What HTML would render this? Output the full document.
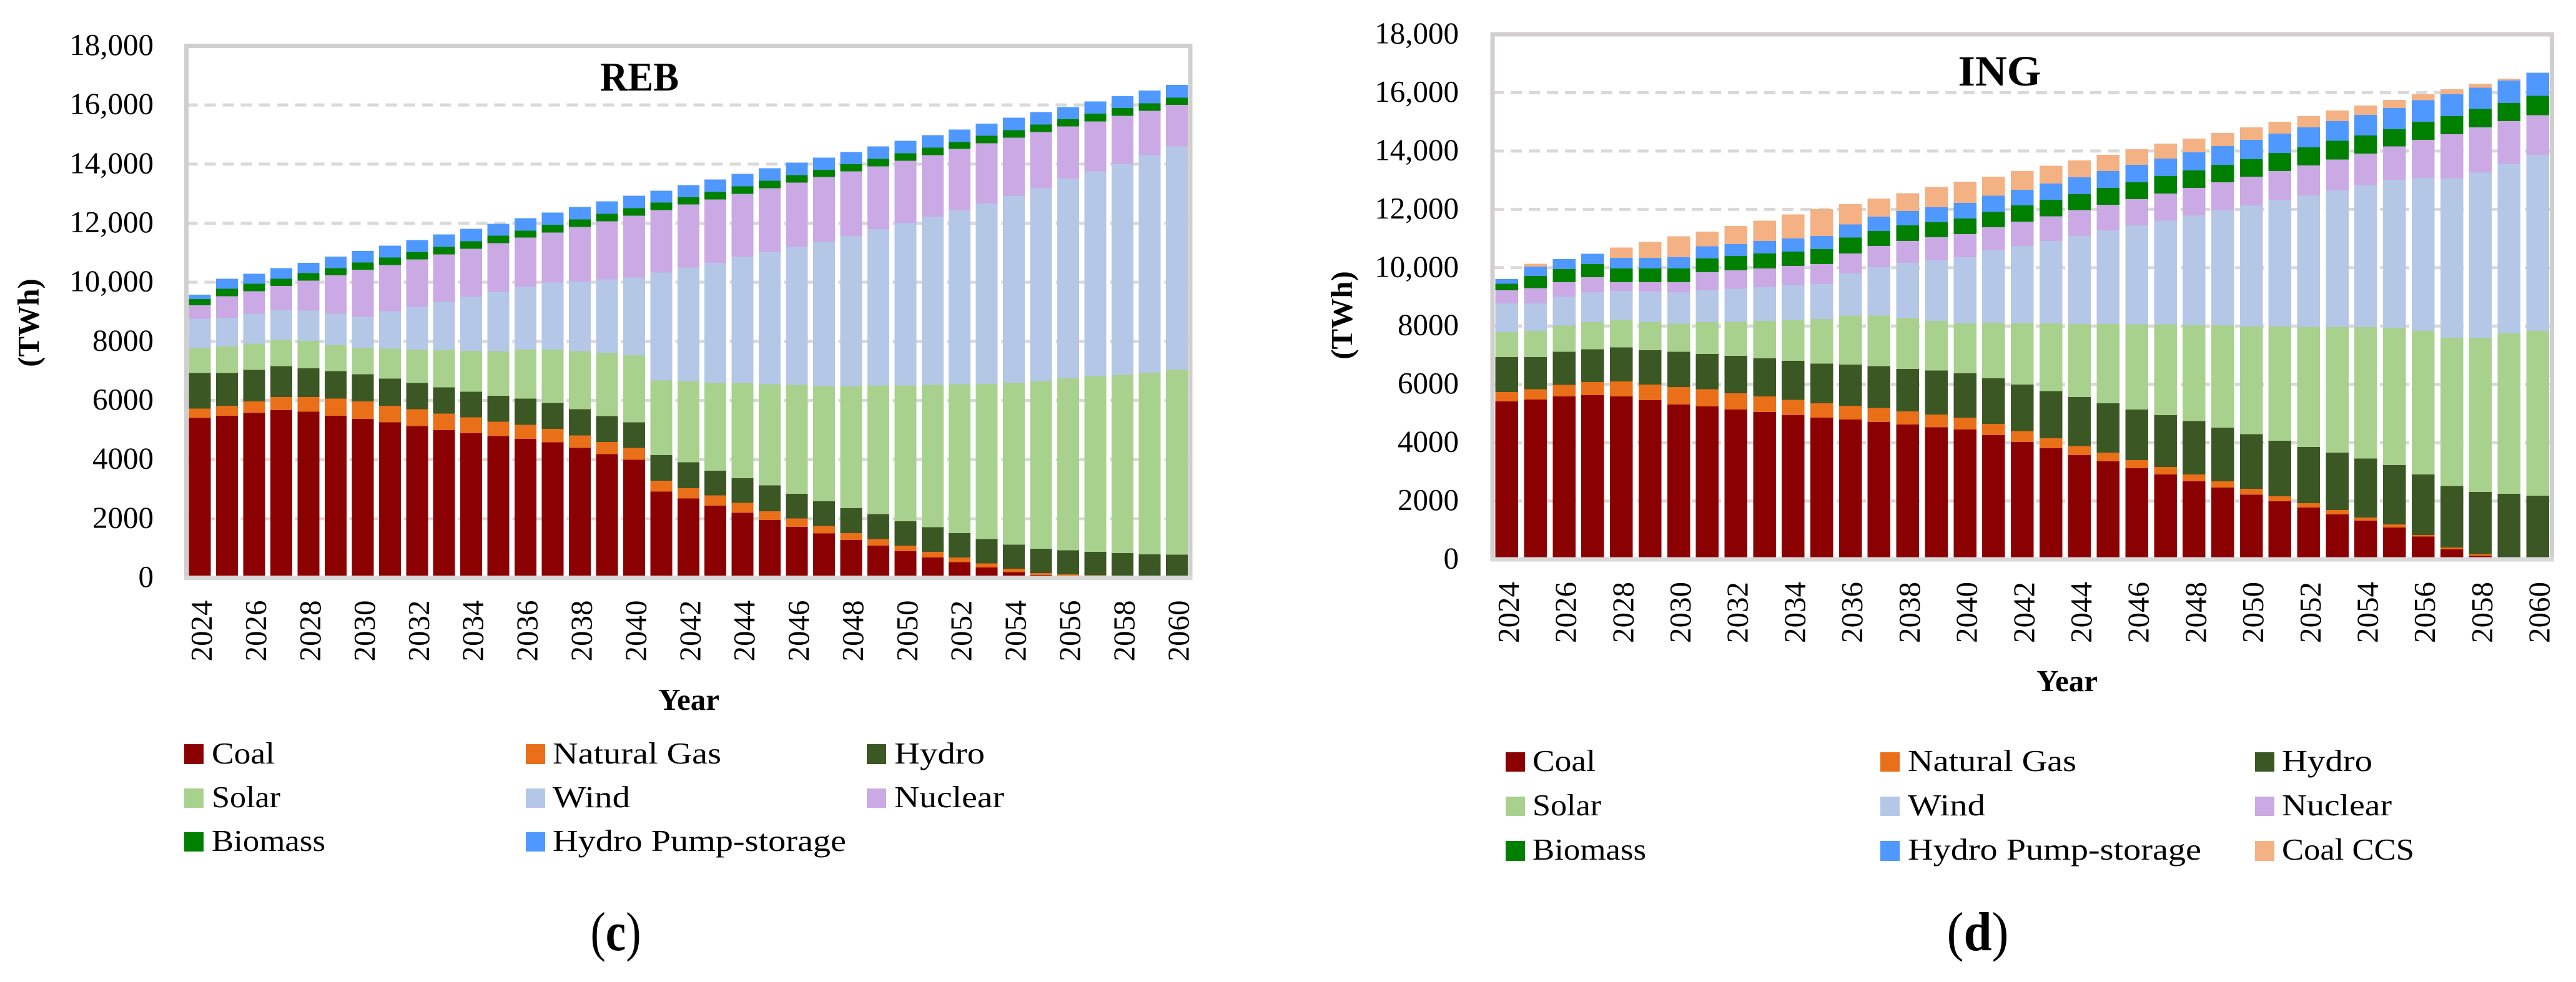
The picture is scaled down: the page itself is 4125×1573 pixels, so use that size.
<!DOCTYPE html>
<html lang="en">
<head>
<meta charset="utf-8">
<title>Electricity generation mix: REB and ING scenarios</title>
<style>
html,body{margin:0;padding:0;background:#fff;}
svg{display:block;}
text{font-family:"Liberation Serif",serif;fill:#000;}
.bold{font-weight:bold;}
</style>
</head>
<body>
<svg id="figure" xmlns="http://www.w3.org/2000/svg" width="4125" height="1573" viewBox="0 0 4125 1573">
  <rect x="0" y="0" width="4125" height="1573" fill="#ffffff"/>
  <g id="chart-reb"></g>
  <g id="chart-ing"></g>

  <text class="bold" x="1024" y="145" font-size="66" text-anchor="middle" textLength="126" lengthAdjust="spacingAndGlyphs">REB</text>
  <text class="bold" x="3202" y="137" font-size="69" text-anchor="middle" textLength="133" lengthAdjust="spacingAndGlyphs">ING</text>

  <text class="bold" font-size="49" text-anchor="middle" transform="translate(62 517) rotate(-90)">(TWh)</text>
  <text class="bold" font-size="49" text-anchor="middle" transform="translate(2165 505) rotate(-90)">(TWh)</text>
  <text class="bold" x="1103" y="1137" font-size="49" text-anchor="middle">Year</text>
  <text class="bold" x="3310" y="1107" font-size="49" text-anchor="middle">Year</text>

  <g>
    <rect x="295" y="1192" width="31" height="32" fill="#8b0000"/>
    <text x="339" y="1223" font-size="49" textLength="101" lengthAdjust="spacingAndGlyphs">Coal</text>
    <rect x="842" y="1192" width="31" height="32" fill="#ea6f19"/>
    <text x="885" y="1223" font-size="49" textLength="270" lengthAdjust="spacingAndGlyphs">Natural Gas</text>
    <rect x="1388" y="1192" width="31" height="32" fill="#3b5723"/>
    <text x="1432" y="1223" font-size="49" textLength="145" lengthAdjust="spacingAndGlyphs">Hydro</text>
    <rect x="295" y="1263" width="31" height="31" fill="#a9d18e"/>
    <text x="339" y="1293" font-size="49" textLength="110" lengthAdjust="spacingAndGlyphs">Solar</text>
    <rect x="842" y="1263" width="31" height="31" fill="#b4c7e7"/>
    <text x="885" y="1293" font-size="49" textLength="124" lengthAdjust="spacingAndGlyphs">Wind</text>
    <rect x="1388" y="1263" width="31" height="31" fill="#caa9e4"/>
    <text x="1432" y="1293" font-size="49" textLength="176" lengthAdjust="spacingAndGlyphs">Nuclear</text>
    <rect x="295" y="1333" width="31" height="31" fill="#008000"/>
    <text x="339" y="1363" font-size="49" textLength="182" lengthAdjust="spacingAndGlyphs">Biomass</text>
    <rect x="842" y="1333" width="31" height="31" fill="#4f98ff"/>
    <text x="885" y="1363" font-size="49" textLength="470" lengthAdjust="spacingAndGlyphs">Hydro Pump-storage</text>
  </g>

  <g>
    <rect x="2411" y="1205" width="31" height="31" fill="#8b0000"/>
    <text x="2454" y="1235" font-size="49" textLength="101" lengthAdjust="spacingAndGlyphs">Coal</text>
    <rect x="3011" y="1205" width="31" height="31" fill="#ea6f19"/>
    <text x="3055" y="1235" font-size="49" textLength="270" lengthAdjust="spacingAndGlyphs">Natural Gas</text>
    <rect x="3611" y="1205" width="31" height="31" fill="#3b5723"/>
    <text x="3654" y="1235" font-size="49" textLength="145" lengthAdjust="spacingAndGlyphs">Hydro</text>
    <rect x="2411" y="1276" width="31" height="31" fill="#a9d18e"/>
    <text x="2454" y="1306" font-size="49" textLength="110" lengthAdjust="spacingAndGlyphs">Solar</text>
    <rect x="3011" y="1276" width="31" height="31" fill="#b4c7e7"/>
    <text x="3055" y="1306" font-size="49" textLength="124" lengthAdjust="spacingAndGlyphs">Wind</text>
    <rect x="3611" y="1276" width="31" height="31" fill="#caa9e4"/>
    <text x="3654" y="1306" font-size="49" textLength="176" lengthAdjust="spacingAndGlyphs">Nuclear</text>
    <rect x="2411" y="1347" width="31" height="32" fill="#008000"/>
    <text x="2454" y="1377" font-size="49" textLength="182" lengthAdjust="spacingAndGlyphs">Biomass</text>
    <rect x="3011" y="1347" width="31" height="32" fill="#4f98ff"/>
    <text x="3055" y="1377" font-size="49" textLength="470" lengthAdjust="spacingAndGlyphs">Hydro Pump-storage</text>
    <rect x="3611" y="1347" width="31" height="32" fill="#f4b183"/>
    <text x="3654" y="1377" font-size="49" textLength="212" lengthAdjust="spacingAndGlyphs">Coal CCS</text>
  </g>

  <text x="986" y="1522" font-size="88" text-anchor="middle" textLength="81" lengthAdjust="spacingAndGlyphs">(<tspan class="bold">c</tspan>)</text>
  <text x="3167" y="1522" font-size="88" text-anchor="middle" textLength="99" lengthAdjust="spacingAndGlyphs">(<tspan class="bold">d</tspan>)</text>
</svg>

<script>
const years = [2024,2025,2026,2027,2028,2029,2030,2031,2032,2033,2034,2035,2036,2037,2038,2039,2040,2041,2042,2043,2044,2045,2046,2047,2048,2049,2050,2051,2052,2053,2054,2055,2056,2057,2058,2059,2060];
const yTickValues = [0,2000,4000,6000,8000,10000,12000,14000,16000,18000];
const yTickLabels = ["0","2000","4000","6000","8000","10,000","12,000","14,000","16,000","18,000"];
const seriesKeys = ["coal","natural-gas","hydro","solar","wind","nuclear","biomass","hydro-pump-storage","coal-ccs"];

const rebCoal = [5405,5486,5581,5675,5621,5486,5379,5257,5136,5001,4893,4799,4705,4583,4394,4179,3990,2912,2683,2440,2197,1955,1725,1496,1281,1092,903,687,526,350,189,94,67,0,0,0,0];
const rebGas = [324,337,391,445,499,580,593,566,566,553,539,485,472,458,418,418,404,377,350,350,337,297,283,256,229,216,189,189,162,135,121,67,54,81,0,0,0];
const rebHydro = [1200,1105,1065,1038,971,930,917,917,890,890,863,876,890,876,890,876,863,863,876,836,836,876,836,836,849,849,822,836,822,822,809,822,809,795,836,795,782];
const rebSolar = [849,903,890,890,930,876,890,1011,1132,1267,1388,1510,1658,1806,1968,2143,2278,2521,2750,2979,3222,3424,3680,3896,4125,4354,4597,4812,5042,5257,5486,5675,5823,5945,6026,6147,6268];
const rebWind = [984,971,1011,1011,1024,1065,1051,1267,1442,1631,1820,2009,2116,2265,2359,2480,2629,3653,3842,4057,4273,4475,4678,4880,5068,5284,5486,5689,5891,6106,6322,6524,6753,6929,7144,7360,7549];
const rebNuclear = [458,728,755,822,1011,1294,1591,1564,1604,1604,1631,1645,1672,1698,1847,1968,2089,2116,2130,2143,2130,2157,2170,2197,2197,2130,2116,2089,2076,2035,1968,1901,1766,1698,1631,1496,1402];
const rebBiomass = [216,256,256,243,256,243,243,256,243,256,256,256,229,256,256,256,256,256,243,256,256,256,256,243,243,256,256,256,229,256,256,256,243,256,256,256,243];
const rebPump = [148,337,337,350,350,391,391,404,418,418,418,404,431,418,418,418,418,404,418,418,418,418,418,418,418,418,418,418,418,404,418,418,418,418,404,431,431];

const ingCoal = [5419,5474,5583,5624,5583,5460,5310,5242,5132,5051,4941,4859,4791,4709,4627,4532,4450,4259,4027,3808,3576,3358,3126,2907,2675,2457,2211,1993,1775,1542,1324,1092,778,341,123,0,0];
const ingGas = [314,355,396,450,519,532,601,587,560,532,532,491,478,478,450,437,410,382,369,341,314,300,273,259,232,218,205,164,150,150,109,109,55,68,55,0,0];
const ingHydro = [1201,1106,1133,1133,1160,1174,1201,1215,1283,1310,1338,1365,1406,1433,1447,1502,1515,1570,1597,1624,1679,1693,1734,1775,1829,1843,1870,1911,1925,1966,2020,2034,2075,2102,2129,2252,2184];
const ingSolar = [860,901,901,928,942,969,969,1092,1174,1283,1392,1529,1679,1734,1747,1706,1720,1897,2102,2321,2498,2716,2921,3112,3290,3508,3699,3918,4109,4300,4505,4709,4928,5091,5296,5501,5651];
const ingWind = [983,942,983,1010,996,1051,1065,1092,1133,1160,1188,1201,1447,1665,1897,2075,2266,2484,2648,2826,3017,3208,3399,3563,3767,3945,4150,4327,4518,4696,4887,5064,5242,5460,5651,5815,6033];
const ingNuclear = [450,519,505,532,300,314,355,614,628,642,669,683,683,723,751,792,792,792,833,846,887,887,901,928,942,956,983,996,1024,1051,1065,1147,1310,1515,1556,1461,1365];
const ingBiomass = [218,423,450,450,478,478,478,478,491,505,491,505,546,519,532,519,532,532,560,560,546,573,573,601,601,601,601,628,628,642,628,587,614,614,628,614,655];
const ingPump = [164,314,341,355,355,355,382,410,410,437,450,450,450,491,491,505,532,546,532,560,587,573,601,601,614,642,669,655,683,683,696,737,737,751,737,778,792];
const ingCcs = [0,96,0,0,355,546,710,505,614,696,819,928,696,614,614,696,737,655,642,614,573,560,532,505,478,450,423,410,382,355,328,273,205,177,137,55,0];

const rebSeries = [rebCoal,rebGas,rebHydro,rebSolar,rebWind,rebNuclear,rebBiomass,rebPump];
const ingSeries = [ingCoal,ingGas,ingHydro,ingSolar,ingWind,ingNuclear,ingBiomass,ingPump,ingCcs];

const palette = {"coal":"#8b0000","natural-gas":"#ea6f19","hydro":"#3b5723","solar":"#a9d18e","wind":"#b4c7e7","nuclear":"#caa9e4","biomass":"#008000","hydro-pump-storage":"#4f98ff","coal-ccs":"#f4b183"};

const SVG_NS = "http://www.w3.org/2000/svg";

function svgEl(tag, attrs, parent) {
  const el = document.createElementNS(SVG_NS, tag);
  for (const k in attrs) el.setAttribute(k, attrs[k]);
  parent.appendChild(el);
  return el;
}

function drawChart(prefix, host, series, left, right, top, bottom, barWidth, labelRight) {
  const yMax = yTickValues[yTickValues.length - 1];
  const yScale = function (v) { return bottom - (v / yMax) * (bottom - top); };
  const step = (right - left) / years.length;
  const xScale = function (i) { return left + step * (i + 0.5); };

  yTickValues.forEach(function (tick, t) {
    if (tick > 0 && tick < yMax) {
      const grid = svgEl("line", {x1: left, x2: right, y1: yScale(tick), y2: yScale(tick), stroke: "#d9d9d9", "stroke-width": 5, "stroke-dasharray": "18 11"}, host);
      
      
    }
    const label = svgEl("text", {x: labelRight, y: yScale(tick) + 14.5, "font-size": 49, "text-anchor": "end"}, host);
    label.textContent = yTickLabels[t];
    
    
  });

  years.forEach(function (year, i) {
    let running = 0;
    series.forEach(function (values, s) {
      const v = values[i];
      const y1 = yScale(running);
      const y2 = yScale(running + v);
      const bar = svgEl("rect", {x: xScale(i) - barWidth / 2, y: y2, width: barWidth, height: Math.max(0, y1 - y2), fill: palette[seriesKeys[s]], "shape-rendering": "crispEdges"}, host);
      
      
      running += v;
    });
    if (i % 2 === 0) {
      const bx = xScale(i) + 19;
      const by = bottom + 36;
      const tickText = svgEl("text", {"font-size": 49, "text-anchor": "end", transform: "translate(" + bx + " " + by + ") rotate(-90) translate(-98 0)"}, host);
      tickText.textContent = String(year);
      tickText.setAttribute("text-anchor", "start");
      
      
    }
  });

  const frame = svgEl("path", {d: "M" + left + " " + bottom + "V" + top + "H" + right + "V" + bottom, fill: "none", stroke: "#d0cece", "stroke-width": 7, "stroke-linejoin": "miter"}, host);
  
  
  const axis = svgEl("line", {x1: left - 3.5, x2: right + 3.5, y1: bottom, y2: bottom, stroke: "#d9d9d9", "stroke-width": 7}, host);
  
  
}

drawChart("reb", document.getElementById("chart-reb"), rebSeries, 298.5, 1906, 73.5, 925.5, 35, 246);
drawChart("ing", document.getElementById("chart-ing"), ingSeries, 2390, 4086.5, 55, 896, 36.5, 2336);
</script>
</body>
</html>
